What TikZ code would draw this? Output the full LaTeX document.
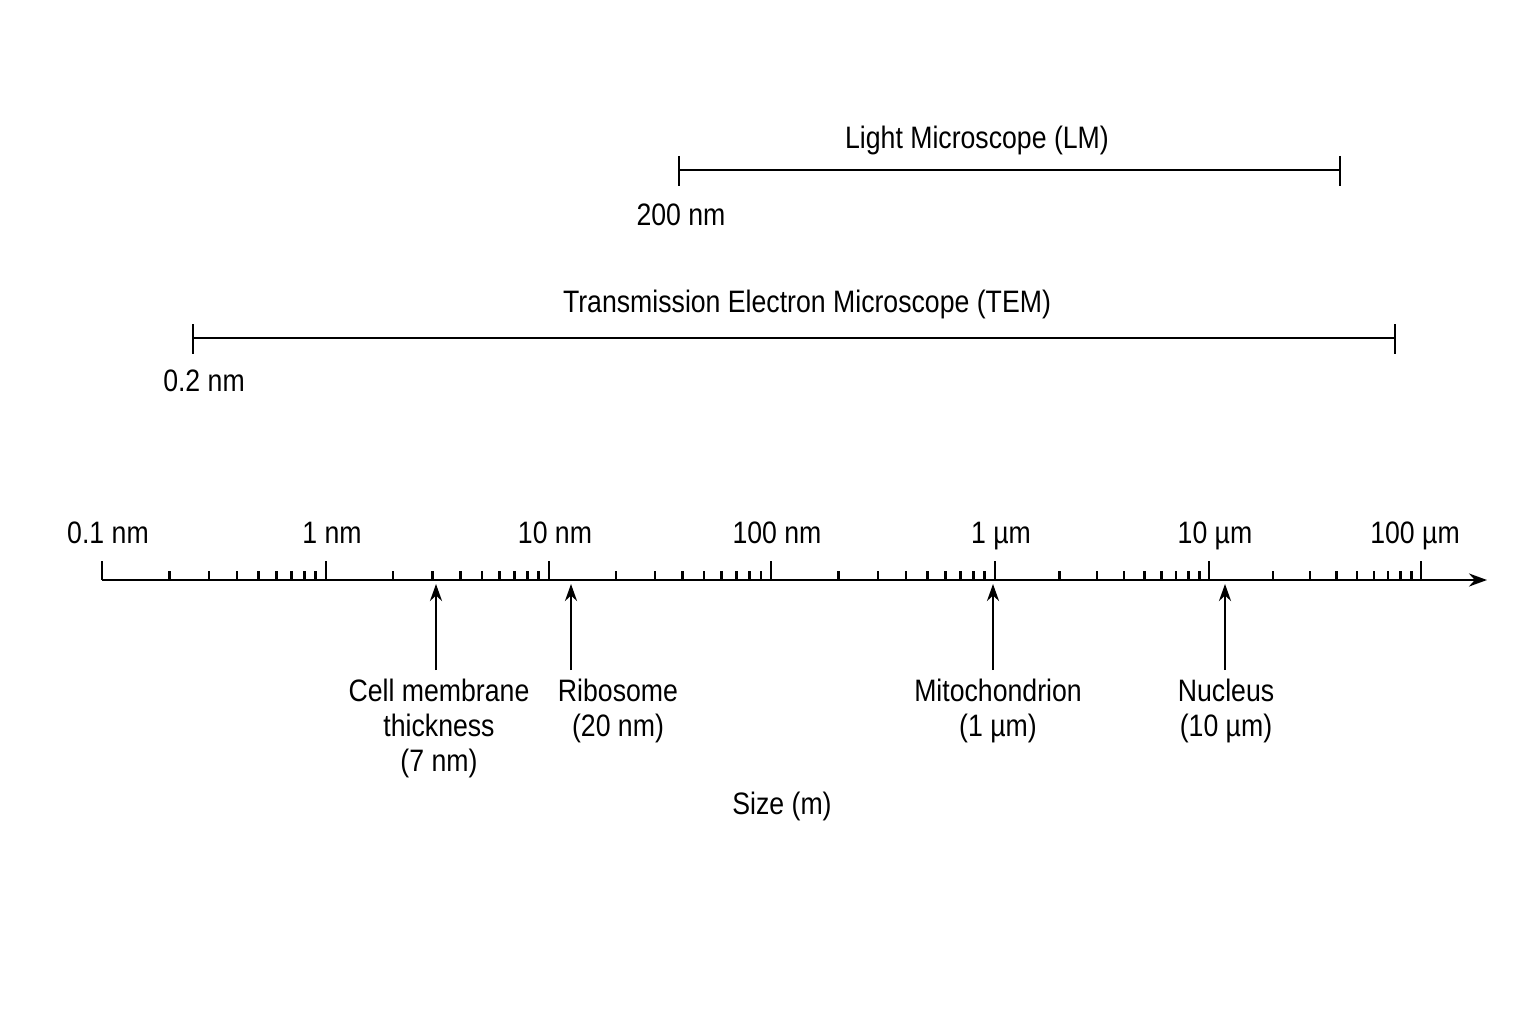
\documentclass[tikz,border=0pt]{standalone}
\usepackage{fontspec}
\setmainfont[FakeStretch=0.86]{Liberation Sans}
\usetikzlibrary{arrows.meta}
\begin{document}
\begin{tikzpicture}[x=1pt,y=-1pt,
  lbl/.style={font=\fontsize{31}{35}\selectfont,inner sep=0pt,align=center},
  ln/.style={line width=2.6pt,black},
  pt/.style={ln,-{Stealth[length=17pt,width=12pt]}}]
\useasboundingbox (0,0) rectangle (1536,1024);
\fill[white] (0,0) rectangle (1536,1024);
% axis
\coordinate (a0) at (102,580); \coordinate (a1) at (1487,580);
\draw[ln,-{Stealth[length=18pt,width=13pt]}] (a0) -- (a1);
\def\majors{102/326/{0.1 nm},326/549/{1 nm},549/771/{10 nm},771/995/{100 nm},995/1209/{1 µm},1209/1421/{10 µm}}
\foreach \a/\b/\t in \majors {
  \draw[ln] (\a,561) -- (\a,580);
  \node[lbl,anchor=base] at (\a+6,543) {\t};
  \foreach \k in {2,...,9} {
    \pgfmathsetmacro{\xx}{\a+(\b-\a)*log10(\k)}
    \draw[ln] (\xx,571) -- (\xx,580);
  }
}
\draw[ln] (1421,561) -- (1421,580);
\node[lbl,anchor=base] at (1415,543) {100 µm};
% LM
\coordinate (l0) at (679,170); \coordinate (l1) at (1340,170);
\draw[ln] (l0) -- (l1);
\draw[ln] (679,156) -- (679,186); \draw[ln] (1340,156) -- (1340,186);
\node[lbl] at (977,140) {Light Microscope (LM)};
\node[lbl] at (681,215) {200 nm};
% TEM
\coordinate (t0) at (193,338); \coordinate (t1) at (1395,338);
\draw[ln] (t0) -- (t1);
\draw[ln] (193,324) -- (193,354); \draw[ln] (1395,324) -- (1395,354);
\node[lbl] at (807,304) {Transmission Electron Microscope (TEM)};
\node[lbl] at (204,381) {0.2 nm};
% pointers
\foreach \x/\lx/\t in {436/439/{Cell membrane\\thickness\\(7 nm)},571/618/{Ribosome\\(20 nm)},993/998/{Mitochondrion\\(1 µm)},1225/1226/{Nucleus\\(10 µm)}} {
  \coordinate (s) at (\x,670); \coordinate (e) at (\x,584);
  \draw[pt] (s) -- (e);
  \node[lbl,anchor=north] at (\lx,679) {\t};
}
\node[lbl] at (782,806) {Size (m)};
\end{tikzpicture}
\end{document}
